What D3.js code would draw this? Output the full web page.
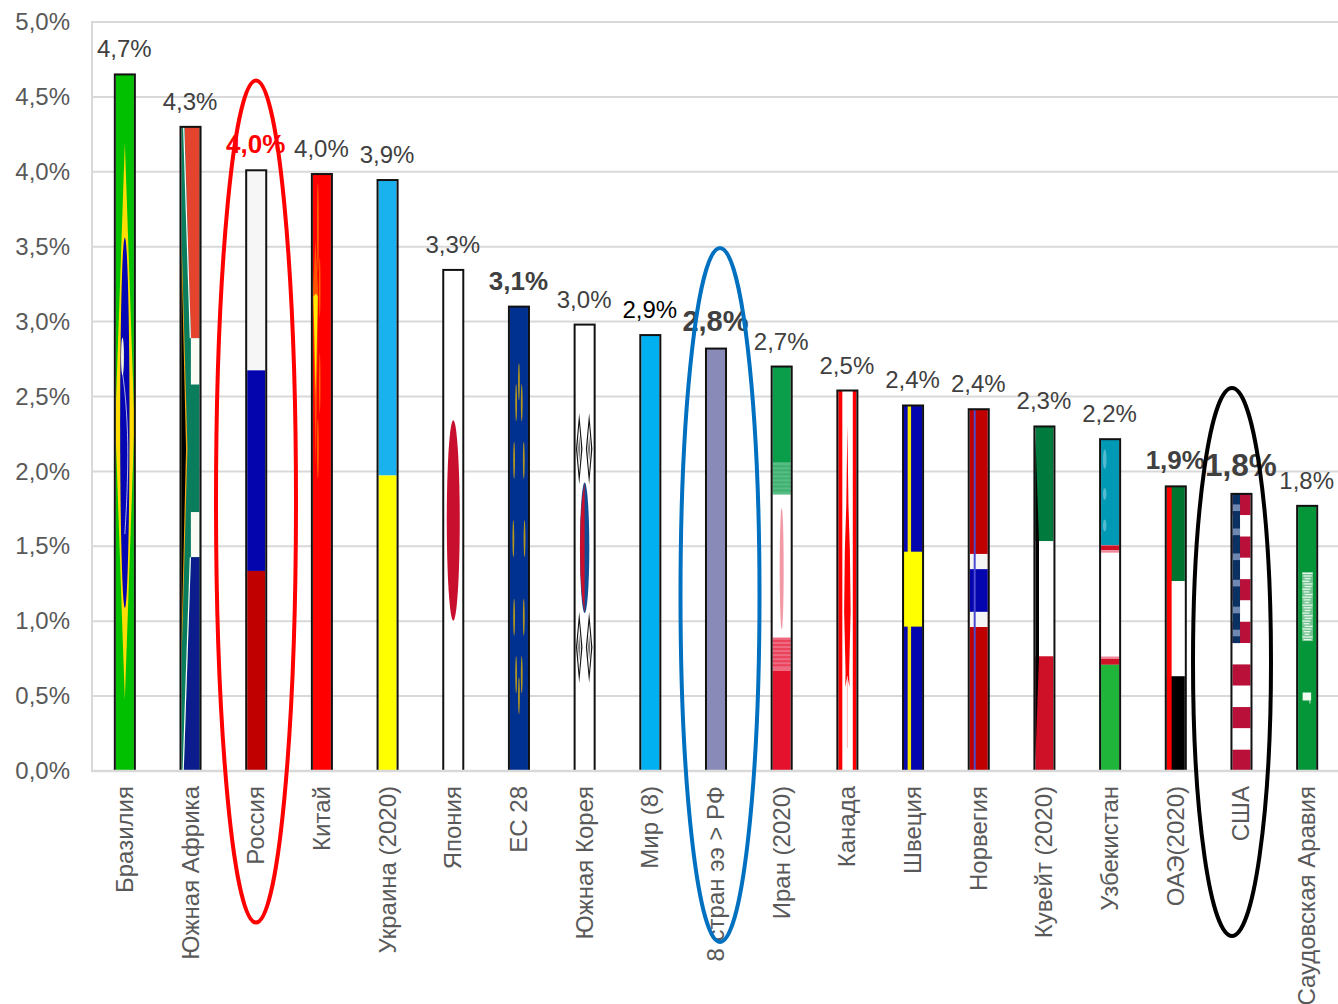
<!DOCTYPE html>
<html><head><meta charset="utf-8">
<script src="https://cdn.jsdelivr.net/npm/d3@7/dist/d3.min.js"></script>
<style>html,body{margin:0;padding:0;background:#fff}svg{display:block;font-family:"Liberation Sans",Arial,sans-serif}</style>
</head><body><svg id="c" width="1338" height="1004"></svg>
<script>
const categories = ["Бразилия","Южная Африка","Россия","Китай","Украина (2020)","Япония","ЕС 28","Южная Корея","Мир (8)","8 стран ээ > РФ","Иран (2020)","Канада","Швеция","Норвегия","Кувейт (2020)","Узбекистан","ОАЭ(2020)","США","Саудовская Аравия"];
const values = [4.65,4.30,4.01,3.985,3.945,3.345,3.10,2.98,2.91,2.82,2.70,2.54,2.44,2.415,2.30,2.215,1.90,1.85,1.77];
const valueLabels = ["4,7%","4,3%","4,0%","4,0%","3,9%","3,3%","3,1%","3,0%","2,9%","2,8%","2,7%","2,5%","2,4%","2,4%","2,3%","2,2%","1,9%","1,8%","1,8%"];
const yTicks = [0,0.5,1,1.5,2,2.5,3,3.5,4,4.5,5];

const svg = d3.select("#c");
const W = 1338, plotLeft = 92, plotRight = 1340, plotTop = 22, plotBase = 771;
const x = d3.scaleBand().domain(categories).range([plotLeft, plotRight]).paddingInner(0.695).paddingOuter(0.3475);
const y = d3.scaleLinear().domain([0,5]).range([plotBase, plotTop]);
const GRID = "#d9d9d9", TXT = "#595959";

// gridlines + y axis
const yAxis = d3.axisLeft(y).tickValues(yTicks).tickSize(0).tickPadding(22)
  .tickFormat(v => d3.format(".1f")(v).replace(".", ",") + "%");
const gy = svg.append("g").attr("transform", `translate(${plotLeft},0)`).call(yAxis);
gy.select(".domain").remove();
gy.selectAll("text").attr("font-size", 24).attr("fill", TXT).attr("font-family", "Liberation Sans");
svg.append("g").selectAll("line").data(yTicks.filter(v => v > 0)).join("line")
  .attr("x1", plotLeft).attr("x2", W).attr("y1", y).attr("y2", y)
  .attr("stroke", GRID).attr("stroke-width", 2);
svg.append("line").attr("x1", plotLeft).attr("x2", plotLeft).attr("y1", plotTop - 1).attr("y2", plotBase)
  .attr("stroke", GRID).attr("stroke-width", 2);

// flag painters; each works in unit coordinates of its own bar
const defs = svg.append("defs");
function painter(g, d, i) {
  const bx = x(d), bw = x.bandwidth(), top = y(values[i]);
  const X = d3.scaleLinear().domain([0,1]).range([bx + 1, bx + bw - 1]);
  const Y = d3.scaleLinear().domain([0,1]).range([top, plotBase]);
  const clipId = "clip" + i;
  defs.append("clipPath").attr("id", clipId).append("rect").attr("x", bx).attr("y", top).attr("width", bw).attr("height", plotBase - top);
  const h = g.append("g").attr("clip-path", `url(#${clipId})`);
  return {
    rect(a, b, c, e, fill, op = 1) {
      h.append("rect").attr("x", X(a)).attr("width", X(b) - X(a)).attr("y", Y(c)).attr("height", Y(e) - Y(c)).attr("fill", fill).attr("opacity", op);
    },
    poly(pts, fill, op = 1) {
      h.append("polygon").attr("points", pts.map(p => X(p[0]) + "," + Y(p[1])).join(" ")).attr("fill", fill).attr("opacity", op);
    },
    ell(cx, cy, rx, ry, fill, op = 1) {
      h.append("ellipse").attr("cx", X(cx)).attr("cy", Y(cy)).attr("rx", X(rx) - X(0)).attr("ry", Y(ry) - Y(0)).attr("fill", fill).attr("opacity", op);
    },
    line(pts, col, w, op = 1) {
      h.append("path").attr("d", d3.line().x(p => X(p[0])).y(p => Y(p[1])).curve(d3.curveCatmullRom)(pts)).attr("fill", "none").attr("stroke", col).attr("stroke-width", w).attr("opacity", op);
    }
  };
}
const flags = {
  "Бразилия"(f) {
    f.rect(0,1,0,1,"#00c000");
    f.poly([[.5,.098],[1.03,.5],[.5,.898],[-.03,.5]],"#ffdd00");
    f.ell(.5,.5,.26,.266,"#0505b4");
    f.ell(.37,.405,.08,.027,"#f4f8e0");
    f.line([[.38,.43],[.55,.47],[.66,.53],[.62,.6],[.5,.66]],"#ffffff",1,.7);
  },
  "Южная Африка"(f) {
    f.rect(0,1,0,1,"#0a7d5c");
    f.poly([[.17,0],[1,0],[1,.328],[.52,.328]],"#e4432d");
    f.rect(.52,1,.328,.40,"#fbfbf6");
    f.rect(.52,1,.598,.668,"#fbfbf6");
    f.poly([[.52,.668],[1,.668],[1,1],[.13,1]],"#0c1c8c");
    f.line([[.12,0],[.49,.328]],"#ffffff",1.2);
    f.line([[.49,.668],[.09,1]],"#ffffff",1.2);
    f.poly([[0,.17],[.33,.5],[0,.83]],"#f5a80f");
    f.poly([[0,.2],[.25,.5],[0,.8]],"#000000");
  },
  "Россия"(f) {
    f.rect(0,1,0,.333,"#f6f6f6");
    f.rect(0,1,.333,.667,"#0505ae");
    f.rect(0,1,.667,1,"#c00000");
  },
  "Китай"(f) {
    f.rect(0,1,0,1,"#ff0000");
    f.poly([[.14,.11],[.3,.2],[.16,.49],[0,.2]],"#ff9900",.55);
    f.poly([[.17,.2],[.27,.205],[.16,.37],[.03,.205]],"#ffee00");
    f.ell(.28,.09,.035,.075,"#ffcc00",.7);
    f.ell(.38,.19,.04,.05,"#ffaa00",.6);
    f.ell(.38,.35,.04,.05,"#ffaa00",.6);
    f.ell(.28,.46,.035,.05,"#ffcc00",.7);
  },
  "Украина (2020)"(f) {
    f.rect(0,1,0,.5,"#19b2ee");
    f.rect(0,1,.5,1,"#ffff00");
  },
  "Япония"(f) {
    f.rect(0,1,0,1,"#ffffff");
    f.ell(.5,.5,.36,.2,"#c8102e");
  },
  "ЕС 28"(f) {
    f.rect(0,1,0,1,"#003090");
    d3.range(12).forEach(k => {
      const a = k * Math.PI / 6;
      f.ell(.5 + .31 * Math.sin(a), .5 - .338 * Math.cos(a), .05, .04, "#e0b000", .8);
    });
  },
  "Южная Корея"(f) {
    f.rect(0,1,0,1,"#ffffff");
    f.ell(.5,.5,.26,.146,"#104c94");
    f.poly([[.5,.354],[.36,.39],[.27,.44],[.24,.5],[.27,.56],[.36,.61],[.5,.646]],"#c8102e");
    [.2,.75].forEach(cx => {
      [.278,.723].forEach(cy => {
        f.poly([[cx,cy-.08],[cx+.18,cy],[cx,cy+.08],[cx-.18,cy]],"#111111");
        f.poly([[cx,cy-.055],[cx+.11,cy],[cx,cy+.055],[cx-.11,cy]],"#ffffff");
        f.poly([[cx,cy-.03],[cx+.06,cy],[cx,cy+.03],[cx-.06,cy]],"#777777");
      });
    });
  },
  "Мир (8)"(f) { f.rect(0,1,0,1,"#00b0f0"); },
  "8 стран ээ > РФ"(f) { f.rect(0,1,0,1,"#8a8ab8"); },
  "Иран (2020)"(f) {
    f.rect(0,1,0,.238,"#0a9e4a");
    f.rect(0,1,.238,.317,"#58bd84");
    f.rect(0,1,.317,.67,"#ffffff");
    f.rect(0,1,.67,.752,"#ee6a80");
    f.rect(0,1,.752,1,"#e4122d");
    d3.range(7).forEach(k => {
      f.rect(0,1,.244 + k * .01,.249 + k * .01,"#2aa862",.55);
      f.rect(0,1,.676 + k * .01,.681 + k * .01,"#e8203c",.55);
    });
    f.ell(.5,.5,.11,.15,"#f08090",.8);
  },
  "Канада"(f) {
    f.rect(0,1,0,1,"#ffffff");
    f.rect(0,.22,0,1,"#ff0000");
    f.rect(.8,1,0,1,"#ff0000");
    f.poly([[.5,.09],[.56,.3],[.64,.42],[.68,.58],[.6,.74],[.62,.78],[.5,.75],[.38,.78],[.4,.74],[.32,.58],[.36,.42],[.44,.3]],"#ff0000");
    f.rect(.47,.53,.75,.94,"#f8a0a0",.7);
  },
  "Швеция"(f) {
    f.rect(0,1,0,1,"#0505b0");
    f.rect(.2,.39,0,1,"#f5e800");
    f.rect(0,1,.4,.605,"#ffff00");
  },
  "Норвегия"(f) {
    f.rect(0,1,0,1,"#c00000");
    f.rect(0,1,.4,.602,"#f5f5f5");
    f.rect(0,1,.442,.56,"#0505b0");
    f.rect(.22,.33,0,1,"#4a4ad0");
  },
  "Кувейт (2020)"(f) {
    f.rect(0,1,0,.333,"#007a3d");
    f.rect(0,1,.333,.667,"#ffffff");
    f.rect(0,1,.667,1,"#ce1126");
    f.poly([[0,.03],[.2,.333],[.2,.667],[0,.97]],"#000000");
  },
  "Узбекистан"(f) {
    f.rect(0,1,0,.32,"#0099b5");
    f.rect(0,1,.32,1,"#ffffff");
    f.rect(0,1,.32,.335,"#ce1126");
    f.rect(0,1,.335,.342,"#ee8899");
    f.rect(0,1,.655,.662,"#ee8899");
    f.rect(0,1,.662,.68,"#ce1126");
    f.rect(0,1,.68,1,"#1eb53a");
    f.ell(.2,.06,.1,.03,"#70c8dc",.7);
    f.ell(.2,.165,.1,.018,"#70c8dc",.7);
    f.ell(.2,.26,.1,.018,"#70c8dc",.7);
  },
  "ОАЭ(2020)"(f) {
    f.rect(0,1,0,.333,"#00732f");
    f.rect(0,1,.333,.667,"#ffffff");
    f.rect(0,1,.667,1,"#000000");
    f.rect(0,.27,0,1,"#ff0000");
  },
  "США"(f) {
    d3.range(13).forEach(k => f.rect(0,1,k/13,(k+1)/13, k % 2 ? "#ffffff" : "#b9103a"));
    f.rect(0,.42,0,7/13,"#0a3161");
    [.05,.137,.227,.322,.419,.502].forEach(t => f.rect(0,.42,t-.012,t+.012,"#6f88b2"));
  },
  "Саудовская Аравия"(f) {
    f.rect(0,1,0,1,"#05963a");
    f.rect(.22,.82,.25,.51,"#ffffff",.45);
    d3.range(26).forEach(k => {
      const t = .252 + k * .01;
      f.rect(.24 + (k % 3) * .06,.8 - (k % 4) * .06,t,t + .005,"#ffffff",.8);
    });
    f.rect(.25,.72,.704,.734,"#f0fff0");
    f.rect(.62,.68,.734,.745,"#ffffff",.8);
  }
};

// bars
const bars = svg.append("g");
categories.forEach((c, i) => {
  const g = bars.append("g");
  flags[c](painter(g, c, i));
  g.append("rect").attr("x", x(c)).attr("y", y(values[i])).attr("width", x.bandwidth()).attr("height", plotBase - y(values[i]))
    .attr("fill", "none").attr("stroke", "#111").attr("stroke-width", 2);
});

// baseline on top of bars
svg.append("line").attr("x1", plotLeft - 1).attr("x2", W).attr("y1", plotBase).attr("y2", plotBase)
  .attr("stroke", GRID).attr("stroke-width", 2.5);

// category labels
svg.append("g").selectAll("text").data(categories).join("text")
  .attr("transform", d => `translate(${x(d) + x.bandwidth()/2 + 8},786) rotate(-90)`)
  .attr("text-anchor", "end").attr("font-size", 24).attr("fill", TXT).text(d => d);

// value labels
const emphasis = i => ({
  2: {size: 26, weight: "bold", fill: "#ff0000"},
  6: {size: 26, weight: "bold", fill: "#404040"},
  8: {size: 24, weight: "normal", fill: "#000000"},
  9: {size: 29, weight: "bold", fill: "#404040"},
  16:{size: 26, weight: "bold", fill: "#404040"},
  17:{size: 31.5, weight: "bold", fill: "#404040"}
}[i] || {size: 24, weight: "normal", fill: "#404040"});
svg.append("g").selectAll("text").data(categories).join("text")
  .attr("x", d => x(d) + x.bandwidth()/2 - .5)
  .attr("y", (d, i) => y(values[i]) - (emphasis(i).size > 28 ? 18 : 17))
  .attr("text-anchor", "middle")
  .attr("font-size", (d, i) => emphasis(i).size)
  .attr("font-weight", (d, i) => emphasis(i).weight)
  .attr("fill", (d, i) => emphasis(i).fill)
  .text((d, i) => valueLabels[i]);

// highlight ovals
svg.append("g").selectAll("ellipse").data([
  {cx: 256, cy: 501.5, rx: 40, ry: 421, col: "#ff0000"},
  {cx: 720, cy: 595, rx: 39.5, ry: 347, col: "#0070c0"},
  {cx: 1232, cy: 662, rx: 39, ry: 274, col: "#000000"}
]).join("ellipse").attr("cx", d => d.cx).attr("cy", d => d.cy).attr("rx", d => d.rx).attr("ry", d => d.ry)
  .attr("fill", "none").attr("stroke", d => d.col).attr("stroke-width", 4);
</script></body></html>
